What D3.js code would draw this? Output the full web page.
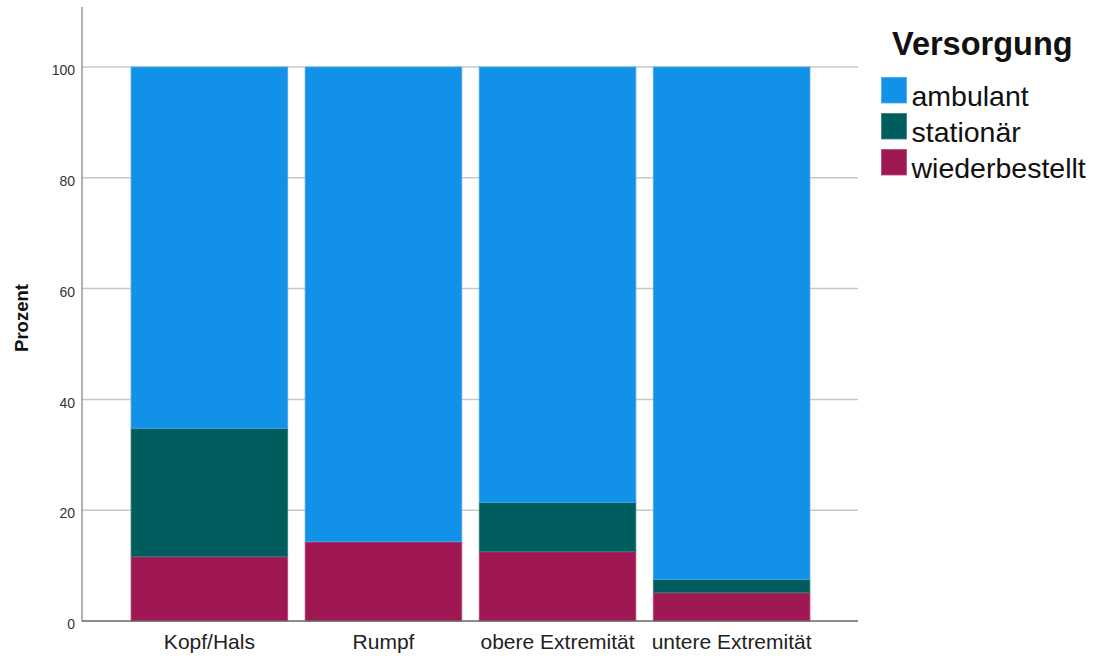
<!DOCTYPE html>
<html><head><meta charset="utf-8">
<script src="https://cdn.jsdelivr.net/npm/d3@7"></script>
<style>body{margin:0;background:#fff;}svg{display:block;}</style>
</head><body>
<svg id="c" width="1093" height="656"></svg>
<script>
const categories = ["Kopf/Hals", "Rumpf", "obere Extremität", "untere Extremität"];
const seriesNames = ["wiederbestellt", "stationär", "ambulant"];
const wiederbestellt = [11.6, 14.3, 12.5, 5.1];
const stationaer = [23.2, 0, 8.9, 2.4];
const ambulant = [65.2, 85.7, 78.6, 92.5];
const yTicks = [0, 20, 40, 60, 80, 100];
const legendOrder = ["ambulant", "stationär", "wiederbestellt"];
const colors = {"ambulant": "#1192e8", "stationär": "#005d5d", "wiederbestellt": "#9f1853"};
const strokes = {"ambulant": "#4aa8ee", "stationär": "#3a7f7f", "wiederbestellt": "#b54a78"};

const svg = d3.select("#c");
const font = "Arial, 'Liberation Sans', sans-serif";
const rows = categories.map((c, i) => ({cat: c, "wiederbestellt": wiederbestellt[i], "stationär": stationaer[i], "ambulant": ambulant[i]}));
const stack = d3.stack().keys(seriesNames)(rows);

const x = d3.scaleBand().domain(categories).range([122.35, 818.65]).paddingInner(0.1).paddingOuter(0.05);
const y = d3.scaleLinear().domain([0, 100]).range([621, 67]);

// gridlines
svg.append("g").selectAll("line").data(yTicks.filter(d => d > 0)).join("line")
  .attr("x1", 82).attr("x2", 858)
  .attr("y1", d => y(d)).attr("y2", d => y(d))
  .attr("stroke", "#c8c8c8").attr("stroke-width", 1.5);

// bars
svg.append("g").selectAll("g").data(stack).join("g")
  .attr("fill", d => colors[d.key]).attr("stroke", d => strokes[d.key]).attr("stroke-width", 0.8)
  .selectAll("rect").data(d => d.filter(p => p[1] - p[0] > 0)).join("rect")
  .attr("x", d => x(d.data.cat))
  .attr("width", x.bandwidth())
  .attr("y", d => y(d[1]))
  .attr("height", d => y(d[0]) - y(d[1]));

// y axis
const yAxis = svg.append("g").attr("transform", "translate(82,0)")
  .call(d3.axisLeft(y).tickValues(yTicks).tickSize(0).tickPadding(7).tickFormat(d3.format("d")));
yAxis.select(".domain").remove();
yAxis.selectAll("text").attr("font-family", font).attr("font-size", 14).attr("fill", "#333").attr("dy", "0.55em");
svg.append("line").attr("x1", 82).attr("x2", 82).attr("y1", 7).attr("y2", 621.5)
  .attr("stroke", "#888").attr("stroke-width", 1.3);

// x axis
const xAxis = svg.append("g").attr("transform", "translate(0,621)")
  .call(d3.axisBottom(x).tickSize(0).tickPadding(13));
xAxis.select(".domain").remove();
xAxis.selectAll("text").attr("font-family", font).attr("font-size", 21).attr("fill", "#222");
svg.append("line").attr("x1", 82).attr("x2", 858).attr("y1", 621).attr("y2", 621)
  .attr("stroke", "#666").attr("stroke-width", 1.3);

// y label
svg.append("text").attr("transform", "translate(28,318) rotate(-90)")
  .attr("text-anchor", "middle").attr("font-family", font).attr("font-weight", "bold")
  .attr("font-size", 18.5).attr("fill", "#111").text("Prozent");

// legend
const lg = svg.append("g");
lg.append("text").attr("x", 892).attr("y", 55).attr("font-family", font).attr("font-weight", "bold")
  .attr("font-size", 32.5).attr("fill", "#111").text("Versorgung");
const items = lg.selectAll("g.item").data(legendOrder).join("g").attr("class", "item")
  .attr("transform", (d, i) => `translate(881.5,${77.5 + i * 36})`);
items.append("rect").attr("width", 25).attr("height", 25.5)
  .attr("fill", d => colors[d]).attr("stroke", d => strokes[d]).attr("stroke-width", 0.8);
items.append("text").attr("x", 30).attr("y", 28).attr("font-family", font)
  .attr("font-size", 28.5).attr("fill", "#111").text(d => d);
</script>
</body></html>
